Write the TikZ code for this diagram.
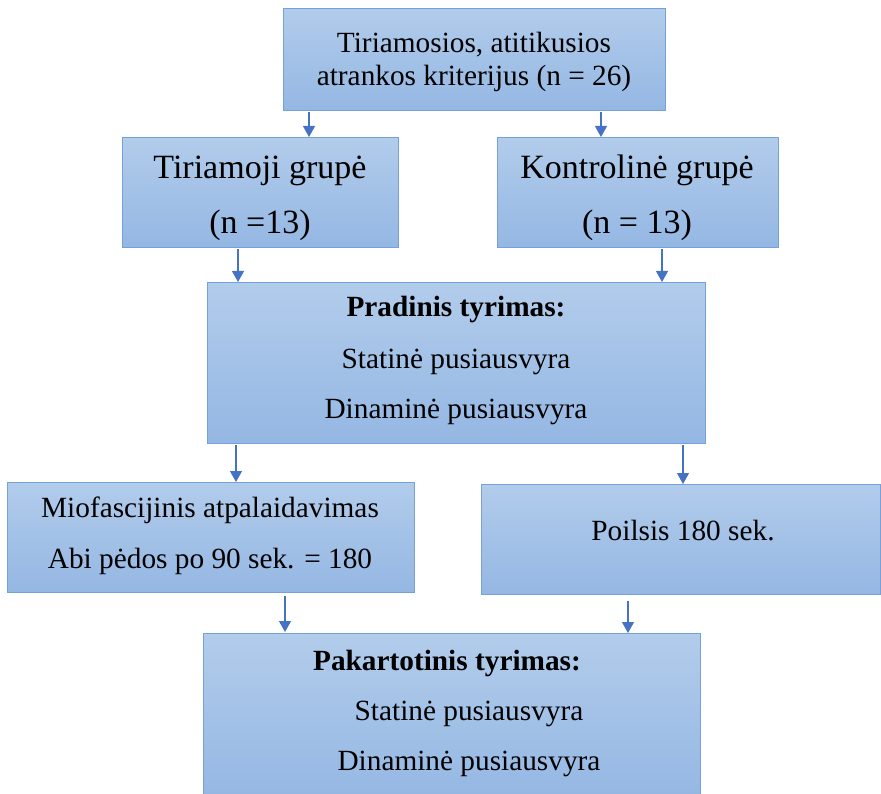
\documentclass[tikz,border=0pt]{standalone}
\usepackage{fontspec}
\setmainfont{Liberation Serif}
\usetikzlibrary{arrows.meta}
\definecolor{boxtop}{RGB}{178,204,235}
\definecolor{boxbot}{RGB}{148,183,227}
\definecolor{boxline}{RGB}{118,160,218}
\definecolor{arrowblue}{RGB}{68,114,196}
\tikzset{
  flowbox/.style={draw=boxline, line width=0.9pt, top color=boxtop, bottom color=boxbot, inner sep=0pt, anchor=north west, rectangle},
  txt/.style={anchor=base, inner sep=0pt, font=\fontsize{29.3}{33}\selectfont},
  bigtxt/.style={anchor=base, inner sep=0pt, font=\fontsize{34}{40}\selectfont},
  flowarrow/.style={draw=arrowblue, line width=1.2pt, -{Triangle[width=12pt,length=11pt]}}
}
\begin{document}
\begin{tikzpicture}[x=1pt,y=-1pt]
\useasboundingbox (0,0) rectangle (881,794);
% boxes
\node[flowbox, minimum width=382pt, minimum height=102pt] (b1) at (283,8) {};
\node[flowbox, minimum width=276pt, minimum height=110pt] (b2) at (122,137) {};
\node[flowbox, minimum width=281pt, minimum height=110pt] (b3) at (497,137) {};
\node[flowbox, minimum width=498pt, minimum height=161pt] (b4) at (207,282) {};
\node[flowbox, minimum width=407pt, minimum height=110pt] (b5) at (7,482) {};
\node[flowbox, minimum width=399pt, minimum height=110pt] (b6) at (481,484) {};
\node[flowbox, minimum width=497pt, minimum height=167pt] (b7) at (203,633) {};
% texts
\node[txt] (t1a) at (474,53) {Tiriamosios, atitikusios};
\node[txt] (t1b) at (474,86) {atrankos kriterijus (n = 26)};
\node[bigtxt] (t2a) at (260,179) {Tiriamoji grupė};
\node[bigtxt] (t2b) at (260,234) {(n =13)};
\node[bigtxt] (t3a) at (637,179) {Kontrolinė grupė};
\node[bigtxt] (t3b) at (637,234) {(n = 13)};
\node[txt] (t4a) at (456,317) {\textbf{Pradinis tyrimas:}};
\node[txt] (t4b) at (456,368) {Statinė pusiausvyra};
\node[txt] (t4c) at (456,418) {Dinaminė pusiausvyra};
\node[txt] (t5a) at (210,517) {Miofascijinis atpalaidavimas};
\node[txt] (t5b) at (210,568) {Abi pėdos po 90 sek. = 180};
\node[txt] (t6a) at (683,540) {Poilsis 180 sek.};
\node[txt] (t7a) at (447,670) {\textbf{Pakartotinis tyrimas:}};
\node[txt] (t7b) at (469,720) {Statinė pusiausvyra};
\node[txt] (t7c) at (469,770) {Dinaminė pusiausvyra};
% arrows
\draw[flowarrow] ([xshift=26pt,yshift=-1pt]b1.south west) -- ([xshift=187pt]b2.north west);
\draw[flowarrow] ([xshift=318pt,yshift=-1pt]b1.south west) -- ([xshift=104pt]b3.north west);
\draw[flowarrow] ([xshift=116pt,yshift=-1pt]b2.south west) -- ([xshift=31pt]b4.north west);
\draw[flowarrow] ([xshift=165pt,yshift=-1pt]b3.south west) -- ([xshift=455pt]b4.north west);
\draw[flowarrow] ([xshift=29pt,yshift=-1pt]b4.south west) -- ([xshift=229pt]b5.north west);
\draw[flowarrow] ([xshift=476pt,yshift=-1pt]b4.south west) -- ([xshift=202pt]b6.north west);
\draw[flowarrow] ([xshift=278pt,yshift=-3pt]b5.south west) -- ([xshift=82pt,yshift=1pt]b7.north west);
\draw[flowarrow] ([xshift=147pt,yshift=-6pt]b6.south west) -- ([xshift=425pt]b7.north west);
\end{tikzpicture}
\end{document}
